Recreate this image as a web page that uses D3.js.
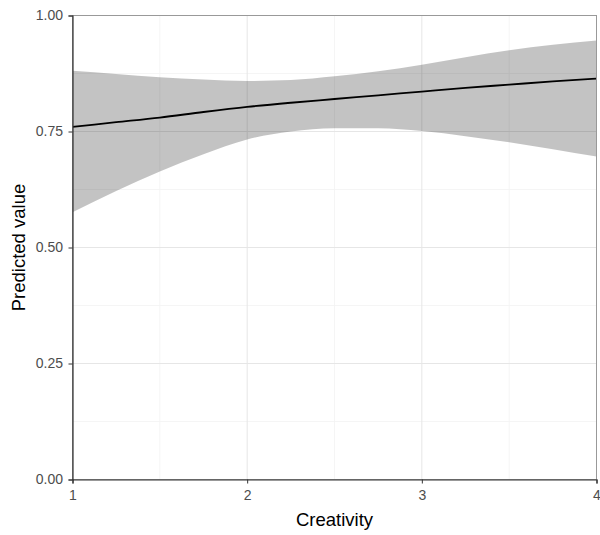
<!DOCTYPE html>
<html><head><meta charset="utf-8">
<script src="https://cdn.jsdelivr.net/npm/d3@7"></script>
<style>body{margin:0;background:#fff}</style>
</head><body>
<svg id="c" width="600" height="535"></svg>
<script>
const creativity = [1.0,1.25,1.5,1.75,2.0,2.25,2.5,2.75,3.0,3.25,3.5,3.75,4.0];
const predicted  = [0.760,0.770,0.780,0.792,0.803,0.812,0.820,0.828,0.836,0.844,0.851,0.858,0.864];
const upper      = [0.881,0.874,0.867,0.862,0.859,0.861,0.869,0.880,0.894,0.910,0.925,0.937,0.946];
const lower      = [0.576,0.622,0.664,0.701,0.733,0.750,0.757,0.757,0.751,0.740,0.727,0.712,0.696];
const xTicks = [1,2,3,4];
const xMinor = [1.5,2.5,3.5];
const yTicks = [0,0.25,0.5,0.75,1];
const yMinor = [0.125,0.375,0.625,0.875];

const svg = d3.select("#c");
const L=72.5, R=596.5, T=15.5, B=479.5;
const x = d3.scaleLinear().domain([1,4]).range([L,R]);
const y = d3.scaleLinear().domain([0,1]).range([B,T]);
const font = "'Liberation Sans', Arial, sans-serif";

const g = svg.append("g");
// minor grid
g.selectAll(".xm").data(xMinor).join("line").attr("x1",d=>x(d)).attr("x2",d=>x(d)).attr("y1",T).attr("y2",B).attr("stroke","#f2f2f2").attr("stroke-width",0.8);
g.selectAll(".ym").data(yMinor).join("line").attr("y1",d=>y(d)).attr("y2",d=>y(d)).attr("x1",L).attr("x2",R).attr("stroke","#f2f2f2").attr("stroke-width",0.8);
// major grid
g.selectAll(".xg").data(xTicks).join("line").attr("x1",d=>x(d)).attr("x2",d=>x(d)).attr("y1",T).attr("y2",B).attr("stroke","#e6e6e6").attr("stroke-width",1);
g.selectAll(".yg").data(yTicks).join("line").attr("y1",d=>y(d)).attr("y2",d=>y(d)).attr("x1",L).attr("x2",R).attr("stroke","#e6e6e6").attr("stroke-width",1);

const pts = creativity.map((c,i)=>({c, p:predicted[i], u:upper[i], l:lower[i]}));
g.append("path").datum(pts)
  .attr("d", d3.area().x(d=>x(d.c)).y0(d=>y(d.l)).y1(d=>y(d.u)).curve(d3.curveMonotoneX))
  .attr("fill","#000").attr("fill-opacity",0.235);
g.append("path").datum(pts)
  .attr("d", d3.line().x(d=>x(d.c)).y(d=>y(d.p)).curve(d3.curveMonotoneX))
  .attr("fill","none").attr("stroke","#000").attr("stroke-width",1.8);

// border (top/right)
svg.append("rect").attr("x",L).attr("y",T).attr("width",R-L).attr("height",B-T)
  .attr("fill","none").attr("stroke","#999").attr("stroke-width",1);

// axes
const xa = svg.append("g").attr("transform",`translate(0,${B})`)
  .call(d3.axisBottom(x).tickValues(xTicks).tickFormat(d3.format("d")).tickSize(4).tickPadding(7));
const ya = svg.append("g").attr("transform",`translate(${L},0)`)
  .call(d3.axisLeft(y).tickValues(yTicks).tickFormat(d3.format(".2f")).tickSize(4).tickPadding(5.5));
[xa,ya].forEach(a=>{
  a.select(".domain").attr("stroke","#333").attr("stroke-width",1.2);
  a.selectAll(".tick line").attr("stroke","#333");
  a.selectAll(".tick text").attr("fill","#4d4d4d").attr("font-size",14).attr("font-family",font);
});

svg.append("text").attr("x",(L+R)/2).attr("y",526).attr("text-anchor","middle")
  .attr("font-size",18.5).attr("font-family",font).attr("fill","#000").text("Creativity");
svg.append("text").attr("transform",`translate(25,${(T+B)/2}) rotate(-90)`).attr("text-anchor","middle")
  .attr("font-size",18.5).attr("font-family",font).attr("fill","#000").text("Predicted value");
</script>
</body></html>
